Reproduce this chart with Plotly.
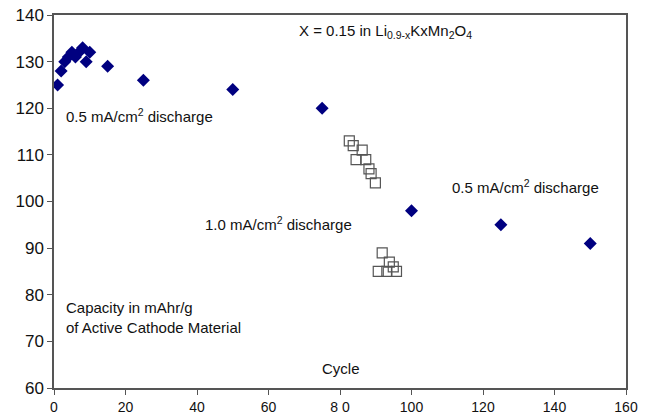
import plotly.graph_objects as go

# Data
cycles_05 = [1, 2, 3, 4, 5, 6, 7, 8, 9, 10, 15, 25, 50, 75, 100, 125, 150]
cap_05 = [125, 128, 130, 131, 132, 131, 132, 133, 130, 132, 129, 126, 124, 120, 98, 95, 91]

cycles_10 = [82.6, 83.7, 86.2, 84.5, 87.2, 88.1, 88.7, 89.9, 91.8, 93.8, 94.9, 90.7, 93.1, 95.8]
cap_10 = [113, 112, 111, 109, 109, 107, 106, 104, 89, 87, 86, 85, 85, 85]

x_ticks = [0, 20, 40, 60, 80, 100, 120, 140, 160]
x_ticklabels = ["0", "20", "40", "60", "8 0", "100", "120", "140", "160"]
y_ticks = [60, 70, 80, 90, 100, 110, 120, 130, 140]

FONT = "Liberation Sans, Arial, sans-serif"

fig = go.Figure()
fig.add_trace(go.Scatter(
    x=cycles_05, y=cap_05, mode="markers",
    marker=dict(symbol="diamond", size=10, color="#000080"),
    showlegend=False,
))
fig.add_trace(go.Scatter(
    x=cycles_10, y=cap_10, mode="markers",
    marker=dict(symbol="square-open", size=10, color="#555555", line=dict(width=1.2)),
    showlegend=False,
))

ann_font = dict(family=FONT, size=15, color="#111111")
annotations = [
    dict(x=68.0, y=136.4, text="X = 0.15 in Li<sub>0.9-x</sub>KxMn<sub>2</sub>O<sub>4</sub>",
         xanchor="left", yanchor="middle"),
    dict(x=2.8, y=118.5, text="0.5 mA/cm<sup>2</sup> discharge", xanchor="left", yanchor="middle"),
    dict(x=110.8, y=103.3, text="0.5 mA/cm<sup>2</sup> discharge", xanchor="left", yanchor="middle"),
    dict(x=41.7, y=95.2, text="1.0 mA/cm<sup>2</sup> discharge", xanchor="left", yanchor="middle"),
    dict(x=2.8, y=75.2, text="Capacity in mAhr/g<br>of Active Cathode Material",
         xanchor="left", yanchor="middle", align="left"),
    dict(x=74.4, y=64.2, text="Cycle", xanchor="left", yanchor="middle"),
]
for a in annotations:
    a.update(xref="x", yref="y", showarrow=False, font=ann_font)

fig.update_layout(
    width=654, height=420,
    margin=dict(l=54, r=28, t=15, b=32),
    paper_bgcolor="white", plot_bgcolor="white",
    font=dict(family=FONT, size=15, color="#111111"),
    annotations=annotations,
    xaxis=dict(range=[0, 160], tickvals=x_ticks, ticktext=x_ticklabels,
               showgrid=False, zeroline=False, showline=True, linecolor="#555555",
               linewidth=1.5, mirror=True, ticks="outside", ticklen=5,
               tickcolor="#555555", tickfont=dict(size=14), automargin=False),
    yaxis=dict(range=[60, 140], tickvals=y_ticks,
               showgrid=False, zeroline=False, showline=True, linecolor="#555555",
               linewidth=1.5, mirror=True, ticks="outside", ticklen=5,
               tickcolor="#555555", tickfont=dict(size=17), automargin=False),
)

fig.write_html("out.html")
